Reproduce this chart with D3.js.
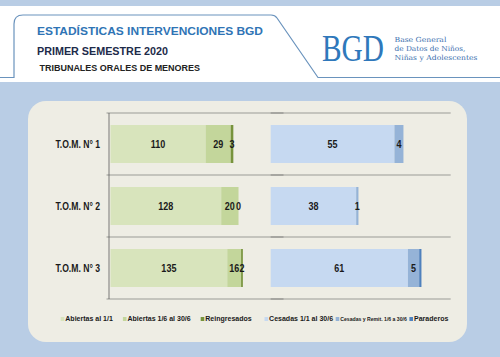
<!DOCTYPE html>
<html><head><meta charset="utf-8">
<script src="https://d3js.org/d3.v7.min.js"></script>
<style>body{margin:0;background:#b9cde5}svg{display:block}</style>
</head><body><script>
// ---- data ----
const categories = ["T.O.M. N° 1", "T.O.M. N° 2", "T.O.M. N° 3"];
const abiertasInicio = [110, 128, 135];
const abiertasSemestre = [29, 20, 16];
const reingresados = [3, 0, 2];
const cesadas = [55, 38, 61];
const cesadasRemit = [4, 1, 5];
const paraderos = [0, 0, 1];
const leftSeriesNames = ["Abiertas al 1/1", "Abiertas 1/6 al 30/6", "Reingresados"];
const rightSeriesNames = ["Cesadas 1/1 al 30/6", "Cesadas y Remit. 1/6 a 30/6", "Paraderos"];
const titleText = "ESTADÍSTICAS INTERVENCIONES BGD";
const subtitleText = "PRIMER SEMESTRE 2020";
const subsubtitleText = "TRIBUNALES ORALES DE MENORES";
const logoText = "BGD";
const logoLines = ["Base General", "de Datos de Niños,", "Niñas y Adolescentes"];

const W = 500, H = 357;
const FONT = "'Liberation Sans', Arial, sans-serif";
const svg = d3.select("body").append("svg").attr("width", W).attr("height", H);

// background
svg.append("rect").attr("width", W).attr("height", H).attr("fill", "#b9cde5");
svg.append("rect").attr("x", 0).attr("y", 6).attr("width", W).attr("height", 76).attr("fill", "#ffffff");

// header outline
const p = d3.path();
p.moveTo(0, 77.5); p.lineTo(14, 77.5); p.lineTo(14, 24);
p.quadraticCurveTo(14, 15, 23, 15); p.lineTo(271, 15);
p.quadraticCurveTo(275, 15, 277, 18); p.lineTo(318, 77.5); p.lineTo(500, 77.5);
svg.append("path").attr("d", p.toString()).attr("fill", "none")
  .attr("stroke", "#6a93bd").attr("stroke-width", 1.2);

function stxt(g, x, y, s, size, sx, opts = {}) {
  return g.append("text")
    .attr("transform", `translate(${x},${y}) scale(${sx},1)`)
    .attr("font-family", opts.family || FONT)
    .attr("font-weight", opts.weight || "bold")
    .attr("font-size", size)
    .attr("text-anchor", opts.anchor || "start")
    .attr("fill", opts.fill || "#1a1a1a")
    .text(s);
}

// titles
svg.append("text").attr("x", 37).attr("y", 34.7).attr("font-family", FONT).attr("font-weight", "bold")
  .attr("font-size", 11.3).attr("fill", "#2f74b5").attr("textLength", 226).attr("lengthAdjust", "spacingAndGlyphs").text(titleText);
svg.append("text").attr("x", 37).attr("y", 55).attr("font-family", FONT).attr("font-weight", "bold")
  .attr("font-size", 11.3).attr("fill", "#1d2b4a").attr("textLength", 131).attr("lengthAdjust", "spacingAndGlyphs").text(subtitleText);
svg.append("text").attr("x", 39.5).attr("y", 71).attr("font-family", FONT).attr("font-weight", "bold")
  .attr("font-size", 9.3).attr("fill", "#222").attr("textLength", 160.5).attr("lengthAdjust", "spacingAndGlyphs").text(subsubtitleText);

// logo
const logo = stxt(svg, 322, 61, logoText, 38, 1, { family: "'Liberation Serif', 'DejaVu Serif', serif", weight: "normal", fill: "#2f78bb" });
const lw = logo.node().getComputedTextLength();
logo.attr("transform", `translate(322,61) scale(${62 / lw},1)`);
const logoW = [52, 71, 83];
logoLines.forEach((l, i) => {
  const t = stxt(svg, 394.5, 41.5 + i * 9, l, 7, 1, { family: "'DejaVu Serif', serif", weight: "normal", fill: "#3a6fae" });
  const w = t.node().getComputedTextLength();
  t.attr("transform", `translate(394.5,${41.5 + i * 9}) scale(${logoW[i] / w},1)`);
});

// panel
svg.append("rect").attr("x", 28).attr("y", 101).attr("width", 439).attr("height", 241)
  .attr("rx", 18).attr("fill", "#eeede4");

// scales
const y = d3.scaleBand().domain(categories).range([113, 299]).paddingInner(0.387).paddingOuter(0.1935);
const xL = d3.scaleLinear().domain([0, 200]).range([110.5, 283.5]);
const xR = d3.scaleLinear().domain([0, 80]).range([270.7, 450.7]);

const leftColors = ["#d8e4bc", "#c3d69b", "#77933c"];
const rightColors = ["#c6d9f1", "#95b3d7", "#4f81bd"];

const leftRows = categories.map((c, i) => ({ cat: c, s0: abiertasInicio[i], s1: abiertasSemestre[i], s2: reingresados[i] }));
const rightRows = categories.map((c, i) => ({ cat: c, s0: cesadas[i], s1: cesadasRemit[i], s2: paraderos[i] }));
const keys = ["s0", "s1", "s2"];
const stackL = d3.stack().keys(keys)(leftRows);
const stackR = d3.stack().keys(keys)(rightRows);

// gridlines at band boundaries
const gap = (y.step() - y.bandwidth()) / 2;
const bounds = categories.map(c => y(c) - gap).concat([y(categories[categories.length - 1]) + y.bandwidth() + gap]);
const grid = svg.append("g");
bounds.forEach(b => {
  grid.append("line").attr("x1", 106.5).attr("x2", xL.range()[1]).attr("y1", b).attr("y2", b)
    .attr("stroke", "#5a5a5a").attr("stroke-opacity", 0.55).attr("stroke-width", 1);
  grid.append("line").attr("x1", xR.range()[0]).attr("x2", xR.range()[1]).attr("y1", b).attr("y2", b)
    .attr("stroke", "#5a5a5a").attr("stroke-opacity", 0.55).attr("stroke-width", 1);
});
grid.append("line").attr("x1", 109).attr("x2", 109).attr("y1", bounds[0]).attr("y2", bounds[bounds.length - 1])
  .attr("stroke", "#5a5a5a").attr("stroke-opacity", 0.8);

// bars
function drawStack(stack, x, colors, labelFilter) {
  const g = svg.append("g");
  stack.forEach((layer, li) => {
    layer.forEach(d => {
      const w = x(d[1]) - x(d[0]);
      if (w > 0) g.append("rect").attr("x", x(d[0])).attr("y", y(d.data.cat))
        .attr("width", w).attr("height", y.bandwidth()).attr("fill", colors[li]);
    });
  });
  stack.forEach((layer, li) => {
    layer.forEach(d => {
      const v = d[1] - d[0];
      if (!labelFilter(li, v)) return;
      const cx = (x(d[0]) + x(d[1])) / 2;
      stxt(g, cx, y(d.data.cat) + y.bandwidth() / 2 + 4, String(v), 10.6, 0.85, { anchor: "middle", fill: "#1a1a1a" });
    });
  });
}
drawStack(stackL, xL, leftColors, () => true);
drawStack(stackR, xR, rightColors, (li, v) => li < 2 && v > 0);

// category labels
categories.forEach(c => {
  stxt(svg, 100, y(c) + y.bandwidth() / 2 + 4, c, 10.5, 0.82, { anchor: "end" });
});

// legends
function legend(names, colors, startX, gapX, size, sizes) {
  let x = startX;
  names.forEach((n, i) => {
    svg.append("rect").attr("x", x).attr("y", 317).attr("width", 3.6).attr("height", 4).attr("fill", colors[i]);
    const t = stxt(svg, x + 4.6, 321.3, n, sizes ? sizes[i] : size, 0.95);
    const w = t.node().getComputedTextLength() * 0.95;
    x = x + 4.6 + w + gapX;
  });
}
legend(leftSeriesNames, leftColors, 60.7, 10, 7.4);
legend(rightSeriesNames, rightColors, 264.5, 2.6, 7.4, [7.4, 5.4, 7.4]);
</script></body></html>
